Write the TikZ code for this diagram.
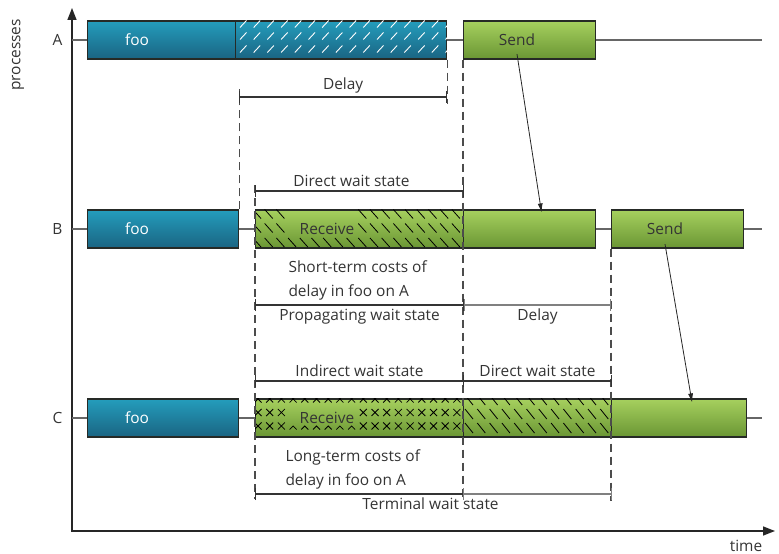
\documentclass[tikz,border=0pt]{standalone}
\usepackage{fontspec}
\setmainfont{Open Sans}
\usetikzlibrary{arrows.meta,positioning}

\definecolor{fooTop}{RGB}{36,157,188}
\definecolor{fooBot}{RGB}{26,100,130}
\definecolor{okTop}{RGB}{166,208,94}
\definecolor{okBot}{RGB}{106,150,52}
\definecolor{edge}{RGB}{38,42,38}
\definecolor{ink}{RGB}{52,52,52}
\definecolor{faint}{RGB}{128,128,128}

\begin{document}
\begin{tikzpicture}[x=1bp, y=-1bp, font=\fontsize{15.5}{18}\selectfont, text=ink, >=Latex,
  line/.style={-{Latex[length=9bp,width=5bp]}, line width=0.8bp, draw=black!85}]

% styles
\tikzset{
  bar/.style={rectangle, anchor=west, draw=edge, line width=1.1bp, minimum height=38bp, inner sep=0pt},
  foobar/.style={bar, top color=fooTop, bottom color=fooBot},
  okbar/.style={bar, top color=okTop, bottom color=okBot},
  bartxt/.style={inner sep=1pt},
  track/.style={draw=black!60, line width=1.1bp},
  axis/.style={{Triangle[length=12bp,width=9bp]}-{Triangle[length=12bp,width=9bp]}, line width=1.4bp, draw=black!85},
  cut/.style={draw=black!70, line width=1.2bp, dash pattern=on 8bp off 5bp},
  span/.style={{Bar[width=12bp]}-{Bar[width=12bp]}, line width=1.2bp, draw=ink},
  lightspan/.style={span, draw=faint},
  hatch/.style={line width=0.8bp, draw=black},
  note/.style={align=left, font=\fontsize{15.5}{24}\selectfont}
}

\useasboundingbox (0,0) rectangle (779,554);

% axes
\coordinate (origin) at (72,531);
\coordinate (ytop) at (72,8);
\coordinate (xend) at (775,531);
\draw[axis] (ytop) -- (origin) -- (xend);
\node[rotate=90] (procs) at (18,55) {processes};
\node[anchor=base] (timelbl) at (746,551) {time};

% process lines
\foreach \r/\y in {A/40,B/229,C/418} {
  \coordinate (row\r) at (72,\y);
  \coordinate (end\r) at (762,\y);
  \draw[track] (row\r) -- (end\r);
  \node[left=6bp of row\r] (lab\r) {\r};
}

% process A
\node[foobar, minimum width=148bp] (fooA) at (87,40) {};
\node[foobar, minimum width=211bp] (delayA) at (235,40) {};
\node[okbar, minimum width=132bp] (sendA) at (463,40) {};
\begin{scope}
  \clip (delayA.south west) rectangle (delayA.north east);
  \foreach \x in {240,253.7,...,446}
    \foreach \y in {24,36,49}
      \draw[white, line width=0.9bp] (\x,\y+3.5) -- (\x+6.5,\y-3.5);
\end{scope}
\node[bartxt, text=white] (fooAtxt) at (137,40) {foo};
\node[bartxt] (sendAtxt) at (517,40) {Send};

% process B
\node[foobar, minimum width=151bp] (fooB) at (87,229) {};
\node[okbar, minimum width=208bp] (recvB) at (255,229) {};
\node[okbar, minimum width=132bp] (restB) at (463,229) {};
\node[okbar, minimum width=132bp] (sendB) at (611,229) {};
\begin{scope}
  \clip (recvB.south west) rectangle (recvB.north east);
  \foreach \x in {257,268.7,...,462} {
    \pgfmathtruncatemacro\intext{(\x>290)&&(\x<360)}
    \ifnum\intext=0
      \draw[hatch] (\x-4,209.5) -- (\x+4,218.5);
      \draw[hatch] (\x-4,223.5) -- (\x+4,232.5);
    \fi
    \draw[hatch] (\x-4,238) -- (\x+4,247);
  }
\end{scope}
\node[bartxt, text=white] (fooBtxt) at (137,229) {foo};
\node[bartxt] (recvBtxt) at (327,229) {Receive};
\node[bartxt] (sendBtxt) at (665,229) {Send};

% process C
\node[foobar, minimum width=151bp] (fooC) at (87,418) {};
\node[okbar, minimum width=208bp] (recvC) at (255,418) {};
\node[okbar, minimum width=148bp] (waitC) at (463,418) {};
\node[okbar, minimum width=135bp] (restC) at (611,418) {};
\begin{scope}
  \clip (recvC.south west) rectangle (recvC.north east);
  \foreach \x in {258,269.7,...,462} {
    \pgfmathtruncatemacro\intext{(\x>290)&&(\x<360)}
    \draw[hatch] (\x-3.5,395.5) -- (\x+3.5,402.5) (\x-3.5,402.5) -- (\x+3.5,395.5);
    \ifnum\intext=0
      \draw[hatch] (\x-3.5,409) -- (\x+3.5,416) (\x-3.5,416) -- (\x+3.5,409);
      \draw[hatch] (\x-3.5,422.5) -- (\x+3.5,429.5) (\x-3.5,429.5) -- (\x+3.5,422.5);
    \else
      \draw[hatch] (\x-3.5,429.5) -- (\x,426) -- (\x+3.5,429.5);
    \fi
  }
\end{scope}
\begin{scope}
  \clip (waitC.south west) rectangle (waitC.north east);
  \foreach \x in {469,481.3,...,611}
    \foreach \y in {400,414,428}
      \draw[hatch] (\x-4,\y-5) -- (\x+4,\y+5);
\end{scope}
\node[bartxt, text=white] (fooCtxt) at (137,418) {foo};
\node[bartxt] (recvCtxt) at (327,418) {Receive};

% dashed guides
\draw[cut] (delayA.south east) -- ++(0,44);
\draw[cut] (sendA.south west) -- ++(0,441);
\draw[cut] (fooB.north east) -- ++(0,-120);
\draw[cut] (recvB.north west) ++(0,-24) -- ++(0,314);
\draw[cut] (sendB.south west) -- ++(0,252);

% spans
\draw[span] (fooB.east |- 0,97) -- (delayA.east |- 0,97) node[midway, above=0bp] (delayAlbl) {Delay};
\draw[span] (recvB.west |- 0,191) -- (recvB.east |- 0,191) node[midway, above=0bp, xshift=-8bp] (directBlbl) {Direct wait state};
\node[note, anchor=west] (shortB) at (285,280) {Short-term costs of\\delay in foo on A};
\draw[span] (recvB.west |- 0,305) -- (recvB.east |- 0,305) node[midway, below=0bp] (propBlbl) {Propagating wait state};
\draw[lightspan] (recvB.east |- 0,305) -- (sendB.west |- 0,305) node[midway, below=0bp, text=ink] (delayBlbl) {Delay};
\draw[span] (recvC.west |- 0,381) -- (recvC.east |- 0,381) node[midway, above=0bp] (indirClbl) {Indirect wait state};
\draw[span] (waitC.west |- 0,381) -- (waitC.east |- 0,381) node[midway, above=0bp] (directClbl) {Direct wait state};
\node[note, anchor=west] (longC) at (282,469) {Long-term costs of\\delay in foo on A};
\draw[span] (recvC.west |- 0,494) -- (recvC.east |- 0,494);
\draw[lightspan] (waitC.west |- 0,494) -- (waitC.east |- 0,494);
\path (recvC.west |- 0,494) -- (waitC.east |- 0,494) node[midway, below=0bp, xshift=-3bp] (termlbl) {Terminal wait state};

% messages
\draw[line] ([yshift=-7bp]sendAtxt.south) -- ([xshift=12bp,yshift=-3bp]restB.north);
\draw[line] ([yshift=-8bp]sendBtxt.south) -- ([xshift=13bp,yshift=-4bp]restC.north);

\end{tikzpicture}
\end{document}
